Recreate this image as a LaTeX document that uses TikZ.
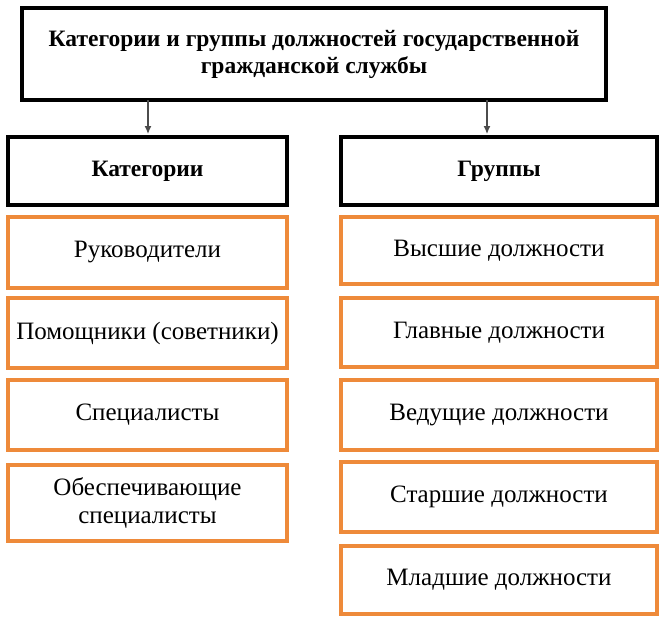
\documentclass[tikz,border=0pt]{standalone}
\usepackage{fontspec}
\usetikzlibrary{arrows.meta}
\setmainfont{Liberation Serif}
\definecolor{org}{HTML}{EE8A3A}
\begin{document}
\begin{tikzpicture}[x=1pt,y=-1pt,
 blk/.style={draw=black,line width=4.5pt,font=\fontsize{23.5}{27}\selectfont\bfseries,align=center},
 ob/.style={draw=org,line width=4.5pt,font=\fontsize{25}{28}\selectfont,align=center,fill=white},
 arr/.style={-{Latex[length=8pt,width=7pt]},draw=black!70,line width=1.2pt}]
\useasboundingbox (0,0) rectangle (668,623);
\node[blk,minimum width=584,minimum height=92] (top) at (314,54) {Категории и группы должностей государственной\\гражданской службы};
\node[blk,minimum width=279,minimum height=68] (kat) at (147.5,171) {Категории};
\node[blk,minimum width=316,minimum height=68] (grp) at (499,171) {Группы};
\coordinate (a1) at (148,100.5);
\coordinate (a2) at (487,100.5);
\coordinate (b1) at (148,134);
\coordinate (b2) at (487,134);
\draw[arr] (a1) -- (b1);
\draw[arr] (a2) -- (b2);
\node[ob,minimum width=279,minimum height=71] (l1) at (147.5,252.5) {Руководители};
\node[ob,minimum width=279,minimum height=70] (l2) at (147.5,333) {Помощники (советники)};
\node[ob,minimum width=279,minimum height=70] (l3) at (147.5,415) {Специалисты};
\node[ob,minimum width=279,minimum height=76] (l4) at (147.5,503) {Обеспечивающие\\специалисты};
\node[ob,minimum width=316,minimum height=67] (r1) at (499,250.5) {Высшие должности};
\node[ob,minimum width=316,minimum height=69] (r2) at (499,332.5) {Главные должности};
\node[ob,minimum width=316,minimum height=70] (r3) at (499,415) {Ведущие должности};
\node[ob,minimum width=316,minimum height=70] (r4) at (499,497) {Старшие должности};
\node[ob,minimum width=316,minimum height=68] (r5) at (499,580) {Младшие должности};
\end{tikzpicture}
\end{document}
